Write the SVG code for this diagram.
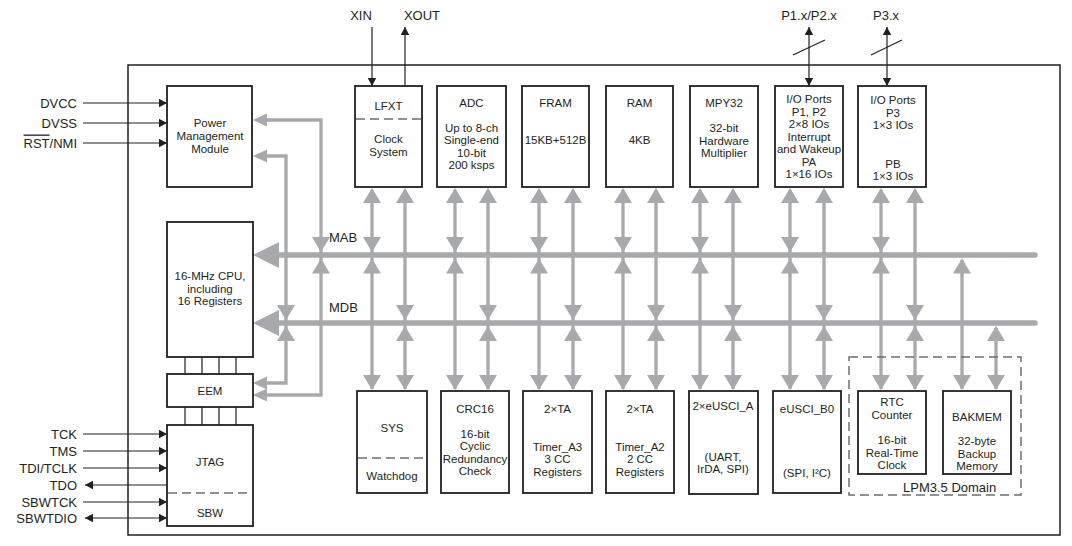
<svg xmlns="http://www.w3.org/2000/svg" xmlns:xlink="http://www.w3.org/1999/xlink" width="1072" height="546" viewBox="0 0 1072 546">
<style>
.box{fill:#fff;stroke:#231f20;stroke-width:1.8}
.t{font-family:"Liberation Sans",Arial,sans-serif;font-size:11.5px;fill:#231f20;text-anchor:middle}
.l{font-family:"Liberation Sans",Arial,sans-serif;font-size:13px;fill:#231f20}
.e{text-anchor:end}
.m{text-anchor:middle}
.dash{stroke:#6d6e71;stroke-width:1.5;stroke-dasharray:9 5;fill:none}
.g{stroke:#a7a9ac;stroke-width:3.3;fill:none}
.bus{stroke:#a7a9ac;stroke-width:5.5;stroke-linecap:round;fill:none}
.k{stroke:#231f20;stroke-width:1.2;fill:none}
.ka{stroke:#231f20;stroke-width:1.2;fill:none;marker-end:url(#mk)}
.kb{stroke:#231f20;stroke-width:1.2;fill:none;marker-end:url(#mk);marker-start:url(#mk)}
</style>
<defs>
<marker id="mk" markerUnits="userSpaceOnUse" markerWidth="9" markerHeight="9" refX="8" refY="4.5" orient="auto-start-reverse"><path d="M0,0.3L8,4.5L0,8.7Z" fill="#231f20"/></marker>
<path id="ad" d="M-9,-15H9L0,0Z" fill="#a7a9ac"/>
<path id="au" d="M-9,15H9L0,0Z" fill="#a7a9ac"/>
<path id="al" d="M14,-6.5V6.5L0,0Z" fill="#a7a9ac"/>
</defs>
<rect x="128" y="65" width="932" height="470" fill="none" stroke="#231f20" stroke-width="1.5"/>

<g id="connectors">
<!-- buses -->
<line class="bus" x1="270" y1="255" x2="1035" y2="255"/>
<line class="bus" x1="270" y1="323" x2="1035" y2="323"/>
<polygon points="253,255 279,242 279,268" fill="#a7a9ac"/>
<polygon points="253,323 279,310 279,336" fill="#a7a9ac"/>
<!-- left feedback lines -->
<path class="g" d="M262,120H321V395H262"/>
<path class="g" d="M262,156H286V383H262"/>
<use xlink:href="#al" x="253" y="120"/>
<use xlink:href="#al" x="253" y="156"/>
<use xlink:href="#al" x="253" y="383"/>
<use xlink:href="#al" x="253" y="395"/>
<use xlink:href="#ad" x="321" y="252"/><use xlink:href="#au" x="321" y="258.5"/>
<use xlink:href="#ad" x="286" y="320"/><use xlink:href="#au" x="286" y="326"/>
<!-- column lines -->
<g class="g">
<line x1="372" y1="190" x2="372" y2="389"/><line x1="405" y1="190" x2="405" y2="389"/>
<line x1="455" y1="190" x2="455" y2="389"/><line x1="488" y1="190" x2="488" y2="389"/>
<line x1="539" y1="190" x2="539" y2="389"/><line x1="573" y1="190" x2="573" y2="389"/>
<line x1="623" y1="190" x2="623" y2="389"/><line x1="656" y1="190" x2="656" y2="389"/>
<line x1="700" y1="190" x2="700" y2="389"/><line x1="733" y1="190" x2="733" y2="389"/>
<line x1="790" y1="190" x2="790" y2="389"/><line x1="824" y1="190" x2="824" y2="389"/>
<line x1="881" y1="190" x2="881" y2="389"/><line x1="915" y1="190" x2="915" y2="389"/>
<line x1="962" y1="260" x2="962" y2="389"/><line x1="996" y1="328" x2="996" y2="389"/>
</g>
<!-- arrows at top modules -->
<use xlink:href="#au" x="372" y="188"/><use xlink:href="#au" x="405" y="188"/>
<use xlink:href="#au" x="455" y="188"/><use xlink:href="#au" x="488" y="188"/>
<use xlink:href="#au" x="539" y="188"/><use xlink:href="#au" x="573" y="188"/>
<use xlink:href="#au" x="623" y="188"/><use xlink:href="#au" x="656" y="188"/>
<use xlink:href="#au" x="700" y="188"/><use xlink:href="#au" x="733" y="188"/>
<use xlink:href="#au" x="790" y="188"/><use xlink:href="#au" x="824" y="188"/>
<use xlink:href="#au" x="881" y="188"/><use xlink:href="#au" x="915" y="188"/>
<!-- arrows at bottom modules -->
<use xlink:href="#ad" x="372" y="390"/><use xlink:href="#ad" x="405" y="390"/>
<use xlink:href="#ad" x="455" y="390"/><use xlink:href="#ad" x="488" y="390"/>
<use xlink:href="#ad" x="539" y="390"/><use xlink:href="#ad" x="573" y="390"/>
<use xlink:href="#ad" x="623" y="390"/><use xlink:href="#ad" x="656" y="390"/>
<use xlink:href="#ad" x="700" y="390"/><use xlink:href="#ad" x="733" y="390"/>
<use xlink:href="#ad" x="790" y="390"/><use xlink:href="#ad" x="824" y="390"/>
<use xlink:href="#ad" x="881" y="390"/><use xlink:href="#ad" x="915" y="390"/>
<use xlink:href="#ad" x="962" y="390"/><use xlink:href="#ad" x="996" y="390"/>
<!-- MAB taps -->
<use xlink:href="#ad" x="372" y="252"/><use xlink:href="#au" x="372" y="258.5"/>
<use xlink:href="#ad" x="455" y="252"/><use xlink:href="#au" x="455" y="258.5"/>
<use xlink:href="#ad" x="539" y="252"/><use xlink:href="#au" x="539" y="258.5"/>
<use xlink:href="#ad" x="623" y="252"/><use xlink:href="#au" x="623" y="258.5"/>
<use xlink:href="#ad" x="700" y="252"/><use xlink:href="#au" x="700" y="258.5"/>
<use xlink:href="#ad" x="790" y="252"/><use xlink:href="#au" x="790" y="258.5"/>
<use xlink:href="#ad" x="881" y="252"/><use xlink:href="#au" x="881" y="258.5"/>
<use xlink:href="#au" x="962" y="258.5"/>
<!-- MDB taps -->
<use xlink:href="#ad" x="405" y="320"/><use xlink:href="#au" x="405" y="326"/>
<use xlink:href="#ad" x="488" y="320"/><use xlink:href="#au" x="488" y="326"/>
<use xlink:href="#ad" x="573" y="320"/><use xlink:href="#au" x="573" y="326"/>
<use xlink:href="#ad" x="656" y="320"/><use xlink:href="#au" x="656" y="326"/>
<use xlink:href="#ad" x="733" y="320"/><use xlink:href="#au" x="733" y="326"/>
<use xlink:href="#ad" x="824" y="320"/><use xlink:href="#au" x="824" y="326"/>
<use xlink:href="#ad" x="915" y="320"/><use xlink:href="#au" x="915" y="326"/>
<use xlink:href="#au" x="996" y="326"/>
<!-- black signal lines -->
<line class="ka" x1="83" y1="103" x2="167" y2="103"/>
<line class="ka" x1="83" y1="123" x2="167" y2="123"/>
<line class="ka" x1="83" y1="143" x2="167" y2="143"/>
<line class="ka" x1="83" y1="434" x2="167" y2="434"/>
<line class="ka" x1="83" y1="451" x2="167" y2="451"/>
<line class="ka" x1="83" y1="468" x2="167" y2="468"/>
<line class="ka" x1="167" y1="485" x2="85" y2="485"/>
<line class="ka" x1="83" y1="502" x2="167" y2="502"/>
<line class="kb" x1="85" y1="518" x2="167" y2="518"/>
<line class="ka" x1="372" y1="27" x2="372" y2="86"/>
<line class="ka" x1="405" y1="86" x2="405" y2="27"/>
<line class="kb" x1="809" y1="27" x2="809" y2="86"/>
<line class="kb" x1="887" y1="27" x2="887" y2="86"/>
<line class="k" x1="793" y1="55" x2="825" y2="40" stroke-width="1"/>
<line class="k" x1="871" y1="55" x2="902" y2="40" stroke-width="1"/>
<!-- CPU-EEM-JTAG links -->
<path class="k" d="M185,357V374M202,357V374M219,357V374M236,357V374M185,407V425M202,407V425M219,407V425M236,407V425"/>
</g>

<g id="labels">
<text class="l e" x="77" y="107.5">DVCC</text>
<text class="l e" x="77" y="127.5">DVSS</text>
<text class="l e" x="77" y="147.5"><tspan style="text-decoration:overline">RST</tspan>/NMI</text>
<text class="l e" x="77" y="438.5">TCK</text>
<text class="l e" x="77" y="455.5">TMS</text>
<text class="l e" x="77" y="472.5">TDI/TCLK</text>
<text class="l e" x="77" y="489.5">TDO</text>
<text class="l e" x="77" y="506.5">SBWTCK</text>
<text class="l e" x="77" y="522.5">SBWTDIO</text>
<text class="l m" x="361" y="20">XIN</text>
<text class="l m" x="422" y="20">XOUT</text>
<text class="l m" x="809" y="20">P1.x/P2.x</text>
<text class="l m" x="886" y="20">P3.x</text>
<text class="l" x="329" y="242">MAB</text>
<text class="l" x="329" y="312">MDB</text>
</g>

<g id="pmm"><rect class="box" x="167" y="86" width="85" height="101"/>
<text class="t" x="210" y="127">Power</text><text class="t" x="210" y="140">Management</text><text class="t" x="210" y="153">Module</text></g>
<g id="cpu"><rect class="box" x="167" y="222" width="86" height="135"/>
<text class="t" x="210" y="280">16-MHz CPU,</text><text class="t" x="210" y="292.5">including</text><text class="t" x="210" y="305">16 Registers</text></g>
<g id="eem"><rect class="box" x="167" y="374" width="86" height="33"/>
<text class="t" x="210" y="395">EEM</text></g>
<g id="jtag"><rect class="box" x="167" y="425" width="86" height="101"/>
<line class="dash" x1="168" y1="493" x2="252" y2="493"/>
<text class="t" x="210" y="466">JTAG</text><text class="t" x="210" y="517">SBW</text></g>

<g id="lfxt"><rect class="box" x="355" y="86" width="67" height="101"/>
<line class="dash" x1="356" y1="119" x2="421" y2="119"/>
<text class="t" x="388.5" y="110">LFXT</text><text class="t" x="388.5" y="143">Clock</text><text class="t" x="388.5" y="156">System</text></g>
<g id="adc"><rect class="box" x="437" y="86" width="69" height="101"/>
<text class="t" x="471.5" y="107">ADC</text><text class="t" x="471.5" y="131.5">Up to 8-ch</text><text class="t" x="471.5" y="144">Single-end</text><text class="t" x="471.5" y="156.5">10-bit</text><text class="t" x="471.5" y="169">200 ksps</text></g>
<g id="fram"><rect class="box" x="522" y="86" width="67" height="101"/>
<text class="t" x="555.5" y="107">FRAM</text><text class="t" x="555.5" y="144">15KB+512B</text></g>
<g id="ram"><rect class="box" x="606" y="86" width="67" height="101"/>
<text class="t" x="639.5" y="107">RAM</text><text class="t" x="639.5" y="144">4KB</text></g>
<g id="mpy32"><rect class="box" x="690" y="86" width="68" height="101"/>
<text class="t" x="724" y="107">MPY32</text><text class="t" x="724" y="132">32-bit</text><text class="t" x="724" y="144.5">Hardware</text><text class="t" x="724" y="157">Multiplier</text></g>
<g id="io12"><rect class="box" x="775" y="86" width="68" height="101"/>
<text class="t" x="809" y="103">I/O Ports</text><text class="t" x="809" y="115.5">P1, P2</text><text class="t" x="809" y="128">2×8 IOs</text><text class="t" x="809" y="140.5">Interrupt</text><text class="t" x="809" y="153">and Wakeup</text><text class="t" x="809" y="165.5">PA</text><text class="t" x="809" y="178">1×16 IOs</text></g>
<g id="io3"><rect class="box" x="858" y="86" width="68" height="101"/>
<text class="t" x="893" y="104">I/O Ports</text><text class="t" x="893" y="116.5">P3</text><text class="t" x="893" y="129">1×3 IOs</text><text class="t" x="893" y="168">PB</text><text class="t" x="893" y="180">1×3 IOs</text></g>

<g id="sys"><rect class="box" x="357" y="391" width="70" height="102"/>
<line class="dash" x1="358" y1="458" x2="426" y2="458"/>
<text class="t" x="392" y="432">SYS</text><text class="t" x="392" y="480">Watchdog</text></g>
<g id="crc16"><rect class="box" x="441" y="391" width="68" height="102"/>
<text class="t" x="475" y="413">CRC16</text><text class="t" x="475" y="437.5">16-bit</text><text class="t" x="475" y="450">Cyclic</text><text class="t" x="475" y="462.5">Redundancy</text><text class="t" x="475" y="475">Check</text></g>
<g id="ta3"><rect class="box" x="523" y="391" width="69" height="102"/>
<text class="t" x="557.5" y="413">2×TA</text><text class="t" x="557.5" y="451">Timer_A3</text><text class="t" x="557.5" y="463">3 CC</text><text class="t" x="557.5" y="475.5">Registers</text></g>
<g id="ta2"><rect class="box" x="606" y="391" width="68" height="102"/>
<text class="t" x="640" y="413">2×TA</text><text class="t" x="640" y="451">Timer_A2</text><text class="t" x="640" y="463">2 CC</text><text class="t" x="640" y="475.5">Registers</text></g>
<g id="euscia"><rect class="box" x="689" y="391" width="69" height="103"/>
<text class="t" x="723" y="410">2×eUSCI_A</text><text class="t" x="723" y="461">(UART,</text><text class="t" x="723" y="473">IrDA, SPI)</text></g>
<g id="euscib"><rect class="box" x="773" y="391" width="68" height="102"/>
<text class="t" x="807" y="413">eUSCI_B0</text><text class="t" x="807" y="477">(SPI, I²C)</text></g>
<g id="lpm35"><rect class="dash" x="849" y="357" width="172" height="138"/>
<text class="l" x="903" y="492">LPM3.5 Domain</text></g>
<g id="rtc"><rect class="box" x="858" y="391" width="68" height="83"/>
<text class="t" x="892" y="406">RTC</text><text class="t" x="892" y="419">Counter</text><text class="t" x="892" y="444">16-bit</text><text class="t" x="892" y="456.5">Real-Time</text><text class="t" x="892" y="469">Clock</text></g>
<g id="bakmem"><rect class="box" x="943" y="391" width="68" height="83"/>
<text class="t" x="977" y="421">BAKMEM</text><text class="t" x="977" y="445">32-byte</text><text class="t" x="977" y="457.5">Backup</text><text class="t" x="977" y="470">Memory</text></g>
</svg>
